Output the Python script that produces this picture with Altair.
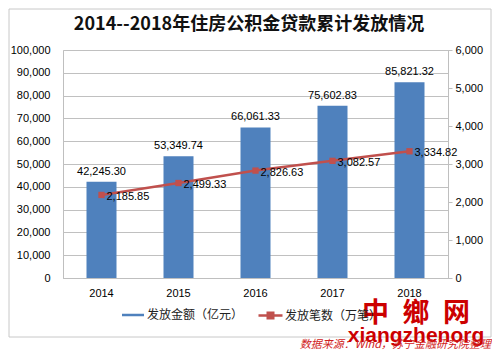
import altair as alt
import pandas as pd

years = ["2014", "2015", "2016", "2017", "2018"]
amount = [42245.30, 53349.74, 66061.33, 75602.83, 85821.32]
count = [2185.85, 2499.33, 2826.63, 3082.57, 3334.82]
bar_label = "发放金额（亿元）"
line_label = "发放笔数（万笔）"
left_ticks = list(range(0, 100001, 10000))
right_ticks = list(range(0, 6001, 1000))
title_text = "2014--2018年住房公积金贷款累计发放情况"
source_text = "数据来源：Wind，苏宁金融研究院整理"
wm_chars = "中\u2002鄉\u2002网"
wm_latin = "xiangzhenorg"

df = pd.DataFrame({"year": years, "amount": amount, "count": count,
                   "s1": [bar_label] * 5, "s2": [line_label] * 5})
one = pd.DataFrame({"a": [0]})

FONT = "Liberation Sans, Noto Sans CJK SC, sans-serif"
CJK = "Noto Sans CJK SC, sans-serif"
BLUE = "#4F81BD"
RED = "#C0504D"
GRAY = "#BFBFBF"

x = alt.X("year:N", title=None,
          axis=alt.Axis(labelAngle=0, ticks=False, domainColor=GRAY, labelPadding=9,
                        labelFontSize=11, labelColor="#000", labelFont=FONT))

left_axis = alt.Axis(orient="left", values=left_ticks, format=",.0f", title=None,
                     ticks=False, domain=False, grid=True, gridColor="#C0C0C0",
                     labelOverlap=False, labelPadding=13, labelFontSize=11,
                     labelColor="#000", labelFont=FONT)
right_axis = alt.Axis(orient="right", values=right_ticks, format=",.0f", title=None,
                      grid=False, domainColor=GRAY, tickColor=GRAY, tickSize=4,
                      labelOverlap=False, labelPadding=3, labelFontSize=11,
                      labelColor="#000", labelFont=FONT)
lscale = alt.Scale(domain=[0, 100000])
rscale = alt.Scale(domain=[0, 6000])

base = alt.Chart(df)

bars = base.mark_bar(size=30).encode(
    x=x, y=alt.Y("amount:Q", scale=lscale, axis=left_axis),
    fill=alt.Fill("s1:N", scale=alt.Scale(range=[BLUE]),
                  legend=alt.Legend(title=None, orient="none", legendX=64, legendY=259,
                                    symbolType="M-2.2,-0.25H2.2V0.25H-2.2Z", symbolSize=100,
                                    symbolStrokeWidth=0, labelOffset=8, padding=0,
                                    labelFontSize=12, labelFont=CJK, labelColor="#222")),
)
bar_text = base.mark_text(baseline="bottom", dy=-5, fontSize=11, font=FONT, color="#000").encode(
    x=x, y=alt.Y("amount:Q", scale=lscale, axis=None),
    text=alt.Text("amount:Q", format=",.2f"))

line = base.mark_line(strokeWidth=2.5).encode(
    x=x, y=alt.Y("count:Q", scale=rscale, axis=right_axis),
    stroke=alt.Stroke("s2:N", scale=alt.Scale(range=[RED]),
                      legend=alt.Legend(title=None, orient="none", legendX=201, legendY=259,
                                        symbolType="M-2.4,0H2.4M-0.55,-0.55H0.55V0.55H-0.55Z",
                                        symbolSize=100, symbolFillColor=RED, symbolStrokeWidth=2.5,
                                        labelOffset=8, padding=0,
                                        labelFontSize=12, labelFont=CJK, labelColor="#222")),
)
points = base.mark_point(shape="square", filled=True, size=40, color=RED, opacity=1).encode(
    x=x, y=alt.Y("count:Q", scale=rscale, axis=None))
line_text = base.mark_text(align="left", baseline="middle", dx=5, dy=2, fontSize=11,
                           font=FONT, color="#000").encode(
    x=x, y=alt.Y("count:Q", scale=rscale, axis=None),
    text=alt.Text("count:Q", format=",.2f"))

frame = alt.Chart(one).mark_rect(fill="transparent", stroke="#C8C8C8", strokeWidth=1).encode(
    x=alt.value(-54), x2=alt.value(428), y=alt.value(-41), y2=alt.value(287))
title = alt.Chart(one).mark_text(text=title_text, fontSize=18, fontWeight="bold", font=CJK,
                                 color="#111", align="center", baseline="middle").encode(
    x=alt.value(186), y=alt.value(-25))
wm1 = alt.Chart(one).mark_text(text=wm_chars, fontSize=27, fontWeight="bold", font=CJK,
                               color="#CC0000", align="center", baseline="middle").encode(
    x=alt.value(353), y=alt.value(264))
wm2 = alt.Chart(one).mark_text(text=wm_latin, fontSize=21, fontWeight="bold",
                               font="Liberation Sans, sans-serif",
                               color="#CC0000", align="center", baseline="middle").encode(
    x=alt.value(353), y=alt.value(286))
src = alt.Chart(one).mark_text(text=source_text, fontSize=11, fontStyle="italic", font=CJK,
                               color="#D02020", align="right", baseline="bottom").encode(
    x=alt.value(428), y=alt.value(300))

chart = alt.layer(frame, bars, bar_text, line, points, line_text, title, wm1, wm2, src).resolve_scale(
    y="independent"
).properties(
    width=385, height=228,
    autosize=alt.AutoSizeParams(type="none"),
    padding={"left": 55, "top": 42, "right": 44, "bottom": 73},
).configure_view(stroke=GRAY, strokeWidth=1)

chart.save("out.html", embed_options={"renderer": "svg", "actions": False})
